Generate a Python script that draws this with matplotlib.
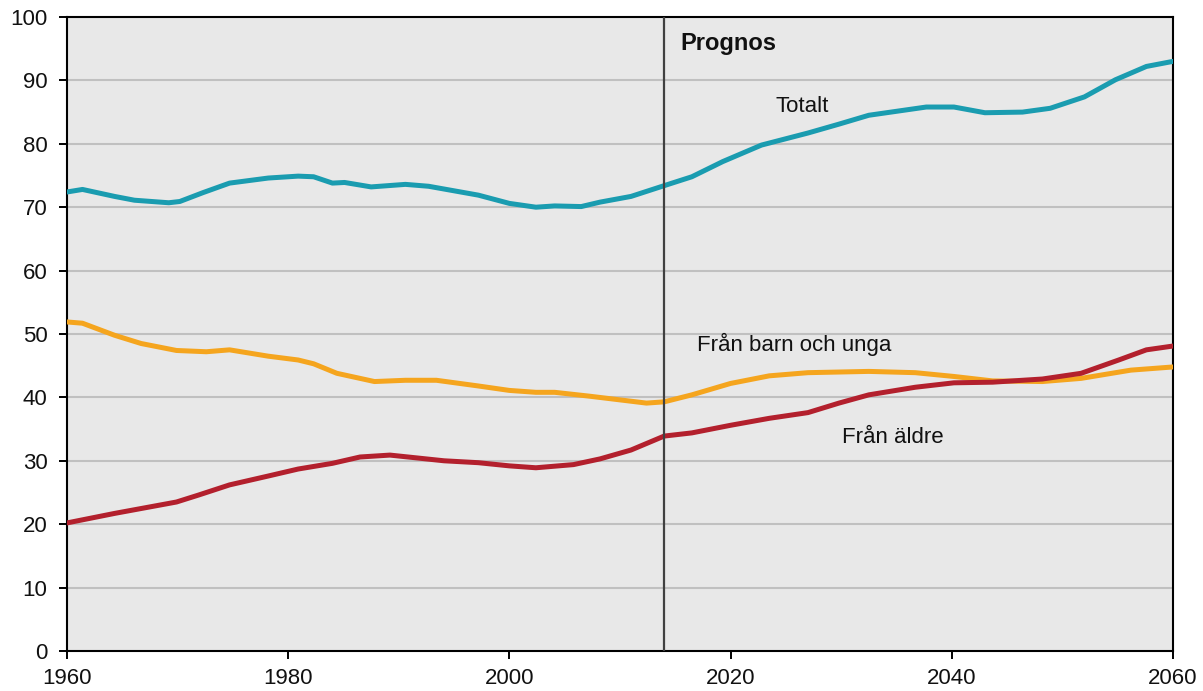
#Dependency ratio chart (Totalt / Från barn och unga / Från äldre)

import numpy as np
import matplotlib
matplotlib.use("Agg")
import matplotlib.pyplot as plt

plt.rcParams['font.family'] = ['Liberation Sans', 'DejaVu Sans']

#Data_read_off_the_chart
tot_years = [1960, 1961.4, 1964.3, 1966.1, 1969.2, 1970.2, 1972.3, 1974.7, 1978.2, 1980.9,
             1982.3, 1984, 1985.1, 1987.5, 1990.6, 1992.7, 1997.2, 2000, 2002.4, 2004.1,
             2006.5, 2008.2, 2011, 2014, 2016.5, 2019.3, 2022.8, 2027, 2029.8, 2032.5,
             2037.7, 2040.2, 2043, 2046.4, 2048.9, 2052, 2054.8, 2057.6, 2060]
totalt = [72.4, 72.8, 71.7, 71.1, 70.7, 70.9, 72.3, 73.8, 74.6, 74.9,
          74.8, 73.8, 73.9, 73.2, 73.6, 73.3, 71.9, 70.6, 70.0, 70.2,
          70.1, 70.8, 71.7, 73.4, 74.8, 77.2, 79.8, 81.7, 83.1, 84.5,
          85.8, 85.8, 84.9, 85.0, 85.6, 87.4, 90.1, 92.2, 93.0]

ung_years = [1960, 1961.4, 1964.3, 1966.7, 1969.9, 1972.6, 1974.7, 1978.2, 1980.9, 1982.3,
             1984.4, 1987.8, 1990.6, 1993.4, 1997.2, 2000, 2002.4, 2004.1, 2007.2, 2012.4,
             2014, 2016.5, 2020, 2023.5, 2027, 2032.5, 2036.7, 2040.2, 2043.7, 2048.2,
             2051.7, 2056.2, 2060]
barn_unga = [51.9, 51.7, 49.8, 48.5, 47.4, 47.2, 47.5, 46.5, 45.9, 45.3,
             43.8, 42.5, 42.7, 42.7, 41.8, 41.1, 40.8, 40.8, 40.2, 39.1,
             39.3, 40.4, 42.2, 43.4, 43.9, 44.1, 43.9, 43.3, 42.6, 42.5,
             43.0, 44.3, 44.8]

eld_years = [1960, 1964.3, 1969.9, 1971.9, 1974.7, 1978.2, 1980.9, 1984, 1986.5, 1989.2,
             1994.1, 1997.2, 2000, 2002.4, 2005.8, 2008.2, 2011, 2014, 2016.5, 2020,
             2023.5, 2027, 2029.8, 2032.5, 2036.7, 2040.2, 2043.7, 2048.2, 2051.7, 2055.1,
             2057.6, 2060]
aldre = [20.2, 21.7, 23.5, 24.6, 26.2, 27.6, 28.7, 29.6, 30.6, 30.9,
         30.0, 29.7, 29.2, 28.9, 29.4, 30.3, 31.7, 33.9, 34.4, 35.6,
         36.7, 37.6, 39.1, 40.4, 41.6, 42.3, 42.4, 42.9, 43.8, 45.9,
         47.5, 48.1]

prognos_year = 2014
x_ticks = [1960, 1980, 2000, 2020, 2040, 2060]
y_ticks = list(range(0, 101, 10))

#Figure
fig = plt.figure(figsize=(12.03, 6.91), dpi=100)
ax = fig.add_axes([0.0557, 0.0579, 0.9193, 0.9175])
ax.set_facecolor('#e8e8e8')

for v in y_ticks[1:-1]:
    ax.axhline(v, color='#c0c0c0', lw=1.5, zorder=1)

ax.plot(tot_years, totalt, color='#1a9cb0', lw=3.6, solid_joinstyle='round', solid_capstyle='round', zorder=3)
ax.plot(ung_years, barn_unga, color='#f5a51e', lw=3.6, solid_joinstyle='round', solid_capstyle='round', zorder=3)
ax.plot(eld_years, aldre, color='#b3202d', lw=3.6, solid_joinstyle='round', solid_capstyle='round', zorder=4)

ax.axvline(prognos_year, color='#404040', lw=1.6, zorder=5)

#Labels
ax.text(2015.5, 95.8, 'Prognos', fontsize=17, fontweight='bold', va='center', ha='left', color='#111111')
ax.text(2024.1, 85.9, 'Totalt', fontsize=16, va='center', ha='left', color='#111111')
ax.text(2017.0, 48.3, 'Från barn och unga', fontsize=16, va='center', ha='left', color='#111111')
ax.text(2030.1, 33.6, 'Från äldre', fontsize=16, va='center', ha='left', color='#111111')

#Axes
ax.set_xlim(1960, 2060)
ax.set_ylim(0, 100)
ax.set_xticks(x_ticks)
ax.set_yticks(y_ticks)
ax.tick_params(axis='both', direction='out', length=6, width=1.4, labelsize=16, color='black', labelcolor='#111111')
ax.tick_params(axis='x', pad=6)
ax.tick_params(axis='y', pad=8)
for s in ax.spines.values():
    s.set_color('black')
    s.set_linewidth(1.5)

fig.savefig('out.png', dpi=100)
